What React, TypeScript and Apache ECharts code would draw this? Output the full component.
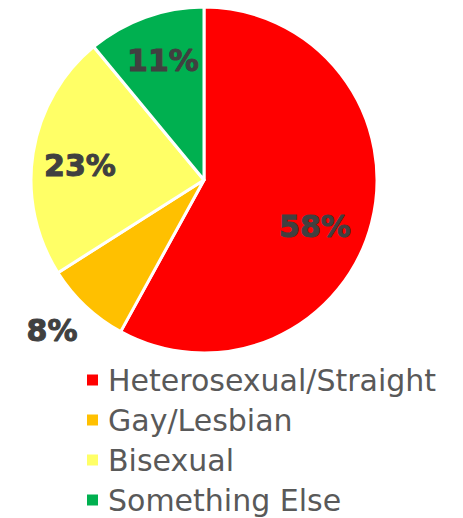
import React, { useEffect, useRef } from "react";
import * as echarts from "echarts";

const categories = ["Heterosexual/Straight", "Gay/Lesbian", "Bisexual", "Something Else"];
const values = [58, 8, 23, 11];
const colors = ["#FF0000", "#FFC000", "#FFFF66", "#00B050"];
// label anchor positions (chart pixels)
const labelSpots = [
  [315, 226],
  [52, 330],
  [80, 165],
  [163, 60],
];

export default function App() {
  const ref = useRef<HTMLDivElement>(null);
  useEffect(() => {
    document.body.style.margin = "0";
    const chart = echarts.init(ref.current!, null, { renderer: "svg" });
    chart.setOption({
      animation: false,
      backgroundColor: "#ffffff",
      color: colors,
      legend: {
        orient: "vertical",
        left: 85,
        top: 365,
        height: 153,
        padding: 0,
        icon: "rect",
        itemWidth: 13,
        itemHeight: 13,
        itemGap: 10,
        selectedMode: false,
        textStyle: {
          fontFamily: "DejaVu Sans",
          fontSize: 30,
          lineHeight: 30,
          color: "#595959",
          padding: [0, 0, 0, 4],
        },
        data: categories,
      },
      series: [
        {
          type: "pie",
          center: [204, 180],
          radius: [0, 173],
          startAngle: 90,
          clockwise: true,
          avoidLabelOverlap: false,
          itemStyle: { borderColor: "#ffffff", borderWidth: 3 },
          label: {
            show: true,
            position: "inside",
            formatter: "{d}%",
            fontFamily: "DejaVu Sans",
            fontWeight: 900,
            fontSize: 30,
            color: "#404040",
            textBorderColor: "#404040",
            textBorderWidth: 1,
          },
          labelLine: { show: false },
          labelLayout: (p: any) => ({
            x: labelSpots[p.dataIndex][0],
            y: labelSpots[p.dataIndex][1],
            align: "center",
            verticalAlign: "middle",
          }),
          emphasis: { disabled: true },
          data: categories.map((c, i) => ({ name: c, value: values[i] })),
        },
      ],
    });
    return () => chart.dispose();
  }, []);
  return <div ref={ref} style={{ width: 463, height: 518 }} />;
}
